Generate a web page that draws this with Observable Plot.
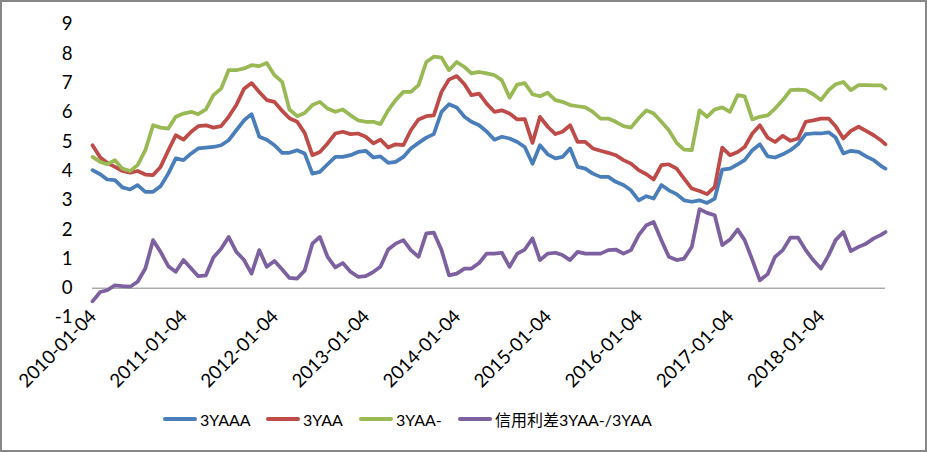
<!DOCTYPE html>
<html><head><meta charset="utf-8">
<script src="https://cdn.jsdelivr.net/npm/d3@7"></script>
<script src="https://cdn.jsdelivr.net/npm/@observablehq/plot@0.6"></script>
<style>
body{margin:0;background:#fff;}
#wrap{position:relative;width:927px;height:452px;overflow:hidden;background:#fff;font-family:Lato,"Noto Sans CJK SC",sans-serif;}
#frame{position:absolute;left:0;top:0;width:927px;height:452px;box-sizing:border-box;border:2px solid #878787;pointer-events:none;}
#chart{position:absolute;left:0;top:0;}
#legend{position:absolute;left:0;top:408px;width:927px;height:22px;font-size:16px;color:#000;white-space:nowrap;}
.item{position:absolute;top:0;height:22px;display:flex;align-items:center;}
.sw{width:34px;height:4px;border-radius:2px;margin-right:3px;}
</style></head><body>
<div id="wrap"><div id="chart"></div><div id="legend"></div><div id="frame"></div></div>
<script>
const seriesNames = ["3YAAA", "3YAA", "3YAA-", "信用利差3YAA-/3YAA"];
const seriesColors = ["#4A7EBB", "#BE4B48", "#98B954", "#7D60A0"];
const legendLeft = [163, 266, 359, 458];
const tickLabels = ["2010-01-04","2011-01-04","2012-01-04","2013-01-04","2014-01-04","2015-01-04","2016-01-04","2017-01-04","2018-01-04"];
const yTicks = [-1,0,1,2,3,4,5,6,7,8,9];
const startDate = "2010-01-04";
const endDate = "2018-09-20";

const yAAA = [4.03,3.89,3.71,3.69,3.44,3.37,3.52,3.29,3.29,3.48,3.91,4.43,4.37,4.6,4.77,4.8,4.82,4.88,5.05,5.39,5.73,5.94,5.17,5.07,4.88,4.62,4.62,
  4.71,4.6,3.91,3.97,4.23,4.48,4.48,4.54,4.65,4.69,4.46,4.5,4.28,4.31,4.48,4.77,4.96,5.14,5.26,6.02,6.28,6.17,5.85,5.68,5.56,5.35,
  5.07,5.17,5.11,4.99,4.82,4.25,4.88,4.57,4.43,4.48,4.77,4.14,4.08,3.91,3.8,3.8,3.63,3.52,3.34,3.0,3.14,3.06,3.52,3.34,3.21,3.0,
  2.95,3.0,2.91,3.06,4.05,4.08,4.23,4.37,4.71,4.91,4.5,4.46,4.57,4.71,4.91,5.26,5.28,5.28,5.32,5.14,4.6,4.69,4.65,4.5,4.37,4.16,
  4.08];
const yAA = [4.88,4.46,4.28,4.14,4.0,3.94,4.0,3.88,3.86,4.14,4.7,5.22,5.07,5.34,5.53,5.56,5.48,5.53,5.85,6.25,6.81,7.0,6.7,6.42,6.36,6.05,5.8,
  5.68,5.3,4.54,4.65,4.94,5.28,5.34,5.26,5.28,5.17,4.94,5.07,4.8,4.91,4.88,5.39,5.76,5.87,5.9,6.7,7.12,7.24,6.96,6.59,6.64,6.3,
  6.02,6.07,5.96,5.76,5.77,4.96,5.85,5.51,5.26,5.34,5.56,4.99,4.99,4.77,4.69,4.62,4.54,4.37,4.25,4.03,3.89,3.71,4.2,4.23,4.08,3.74,
  3.4,3.32,3.21,3.46,4.8,4.54,4.65,4.82,5.28,5.56,5.14,4.99,5.2,5.03,5.11,5.68,5.73,5.79,5.79,5.53,5.11,5.37,5.51,5.37,5.22,5.03,
  4.91];
const yAAminus = [4.48,4.31,4.23,4.37,4.08,4.0,4.2,4.71,5.56,5.48,5.45,5.85,5.96,6.02,5.94,6.1,6.59,6.81,7.44,7.44,7.5,7.61,7.58,7.69,7.27,7.04,6.1,
  5.87,5.98,6.25,6.36,6.13,6.02,6.1,5.9,5.73,5.68,5.68,5.6,6.07,6.42,6.7,6.7,6.93,7.72,7.9,7.87,7.44,7.72,7.55,7.33,7.38,7.33,
  7.27,7.1,6.51,6.95,7.0,6.62,6.55,6.67,6.42,6.36,6.25,6.21,6.17,6.02,5.79,5.79,5.68,5.53,5.48,5.8,6.07,5.96,5.68,5.39,4.96,4.73,
  4.71,6.07,5.85,6.1,6.17,6.02,6.59,6.55,5.76,5.85,5.9,6.13,6.42,6.76,6.78,6.76,6.62,6.42,6.76,6.96,7.04,6.76,6.93,6.93,6.92,6.92,
  6.81];
const spread = [-0.45,-0.13,-0.07,0.1,0.07,0.05,0.22,0.67,1.64,1.24,0.75,0.56,0.96,0.67,0.41,0.44,1.05,1.35,1.75,1.24,0.96,0.5,1.3,0.73,0.93,0.64,0.35,
  0.33,0.6,1.52,1.75,1.07,0.71,0.86,0.56,0.39,0.41,0.56,0.73,1.32,1.52,1.64,1.3,1.07,1.87,1.9,1.3,0.44,0.5,0.67,0.67,0.86,1.18,
  1.18,1.21,0.73,1.18,1.32,1.7,0.96,1.18,1.21,1.13,0.96,1.24,1.18,1.18,1.18,1.3,1.32,1.18,1.3,1.81,2.15,2.26,1.64,1.07,0.96,1.01,
  1.41,2.7,2.57,2.49,1.47,1.66,2.0,1.64,0.96,0.27,0.48,1.07,1.3,1.73,1.73,1.3,0.96,0.67,1.13,1.64,1.92,1.27,1.41,1.52,1.7,1.83,
  1.92];

const seriesValues = [yAAA, yAA, yAAminus, spread];
const n = yAAA.length;
const dates = d3.range(n - 1).map(i => d3.utcMonth.offset(new Date(startDate), i)).concat([new Date(endDate)]);

const rows = [];
seriesValues.forEach((vals, s) => vals.forEach((v, i) => rows.push({date: dates[i], value: v, series: seriesNames[s]})));

const plot = Plot.plot({
  width: 927, height: 400,
  marginLeft: 92, marginRight: 42, marginTop: 24, marginBottom: 83,
  x: {type: "utc", domain: [dates[0], dates[n - 1]], axis: null},
  y: {domain: [-1, 9], axis: null},
  style: {fontFamily: "Lato, 'Noto Sans CJK SC', sans-serif", color: "#000", background: "transparent", overflow: "visible"},
  marks: [
    Plot.axisY({ticks: yTicks, tickSize: 0, tickPadding: 20, tickFormat: d => String(d), fontSize: 18.67, label: null}),
    Plot.ruleY([0], {stroke: "#868686", strokeWidth: 1}),
    ...seriesNames.map((name, s) => Plot.line(rows.filter(r => r.series === name), {
      x: "date", y: "value", stroke: seriesColors[s], strokeWidth: 3.75, strokeLinejoin: "round", strokeLinecap: "round"
    })),
    Plot.text(tickLabels, {
      x: d => new Date(d), text: d => d, frameAnchor: "bottom",
      rotate: -45, textAnchor: "end", lineAnchor: "bottom", dx: 5, dy: 0, fontSize: 18.67, fill: "#000"
    })
  ]
});
document.getElementById("chart").appendChild(plot);

const legend = d3.select("#legend");
seriesNames.forEach((name, s) => {
  const it = legend.append("div").attr("class", "item").style("left", legendLeft[s] + "px");
  it.append("div").attr("class", "sw").style("background", seriesColors[s]);
  it.append("span").text(name);
});
</script>
</body></html>
